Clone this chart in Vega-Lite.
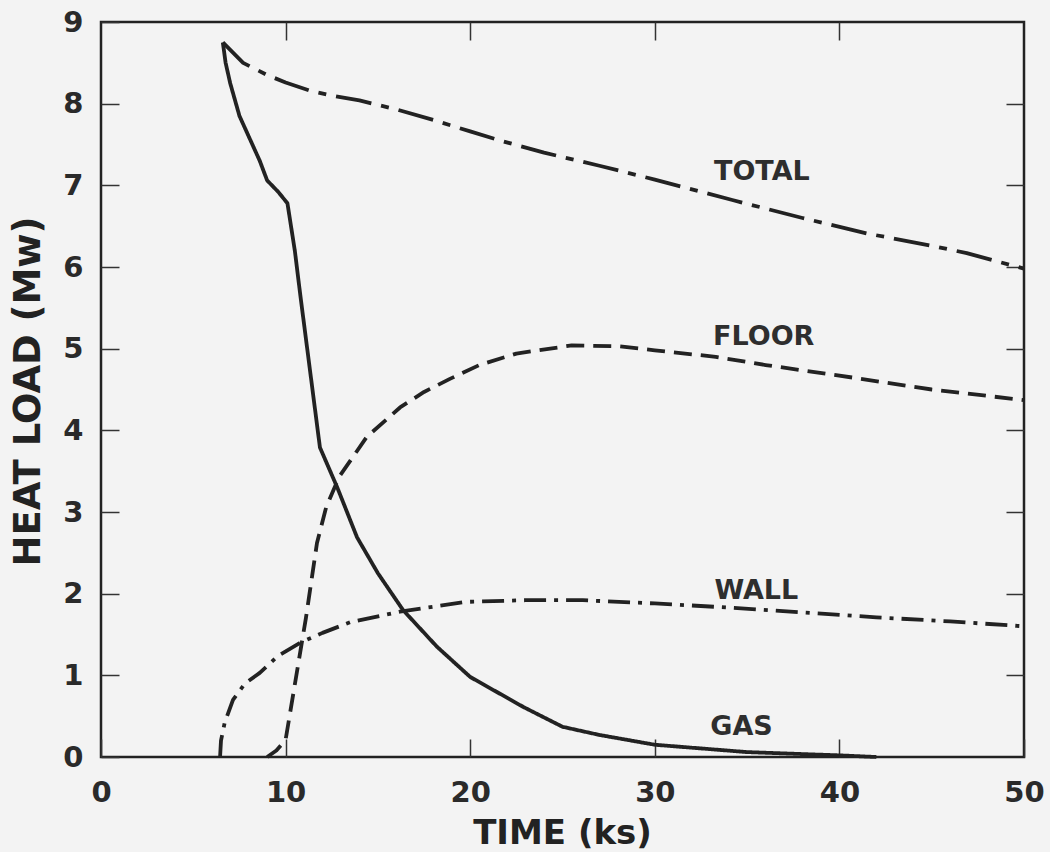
{
  "$schema": "https://vega.github.io/schema/vega-lite/v6.json",
  "width": 923,
  "height": 735,
  "autosize": {"type": "none"},
  "padding": {"left": 101, "top": 22, "right": 26, "bottom": 95},
  "background": "#f3f3f3",
  "config": {
    "view": {"stroke": "#222", "strokeWidth": 2.5},
    "font": "DejaVu Sans"
  },
  "datasets": {
    "curves": [
      {"series": "TOTAL", "t": 6.6, "load": 8.75},
      {"series": "TOTAL", "t": 7.7, "load": 8.5},
      {"series": "TOTAL", "t": 9.0, "load": 8.35},
      {"series": "TOTAL", "t": 10.0, "load": 8.26},
      {"series": "TOTAL", "t": 11.3, "load": 8.16},
      {"series": "TOTAL", "t": 12.5, "load": 8.1},
      {"series": "TOTAL", "t": 14.0, "load": 8.04},
      {"series": "TOTAL", "t": 16.0, "load": 7.93},
      {"series": "TOTAL", "t": 18.0, "load": 7.8},
      {"series": "TOTAL", "t": 20.0, "load": 7.66},
      {"series": "TOTAL", "t": 21.6, "load": 7.55},
      {"series": "TOTAL", "t": 24.0, "load": 7.4},
      {"series": "TOTAL", "t": 27.0, "load": 7.24},
      {"series": "TOTAL", "t": 30.0, "load": 7.07},
      {"series": "TOTAL", "t": 34.2, "load": 6.82},
      {"series": "TOTAL", "t": 38.0, "load": 6.6},
      {"series": "TOTAL", "t": 41.5, "load": 6.41},
      {"series": "TOTAL", "t": 45.0, "load": 6.26},
      {"series": "TOTAL", "t": 46.9, "load": 6.17},
      {"series": "TOTAL", "t": 50.0, "load": 5.98},

      {"series": "GAS", "t": 6.6, "load": 8.75},
      {"series": "GAS", "t": 6.75, "load": 8.5},
      {"series": "GAS", "t": 7.0, "load": 8.25},
      {"series": "GAS", "t": 7.5, "load": 7.85},
      {"series": "GAS", "t": 8.2, "load": 7.5},
      {"series": "GAS", "t": 8.6, "load": 7.3},
      {"series": "GAS", "t": 9.0, "load": 7.06},
      {"series": "GAS", "t": 9.6, "load": 6.92},
      {"series": "GAS", "t": 10.1, "load": 6.78},
      {"series": "GAS", "t": 10.5, "load": 6.2},
      {"series": "GAS", "t": 10.8, "load": 5.65},
      {"series": "GAS", "t": 11.86, "load": 3.79},
      {"series": "GAS", "t": 12.8, "load": 3.3},
      {"series": "GAS", "t": 13.87, "load": 2.69},
      {"series": "GAS", "t": 15.0, "load": 2.25},
      {"series": "GAS", "t": 16.36, "load": 1.8},
      {"series": "GAS", "t": 18.2, "load": 1.35},
      {"series": "GAS", "t": 20.0, "load": 0.98},
      {"series": "GAS", "t": 22.9, "load": 0.61},
      {"series": "GAS", "t": 25.0, "load": 0.37},
      {"series": "GAS", "t": 27.0, "load": 0.27},
      {"series": "GAS", "t": 30.0, "load": 0.15},
      {"series": "GAS", "t": 35.0, "load": 0.06},
      {"series": "GAS", "t": 40.0, "load": 0.02},
      {"series": "GAS", "t": 42.0, "load": 0.0},

      {"series": "FLOOR", "t": 9.0, "load": 0.0},
      {"series": "FLOOR", "t": 9.5, "load": 0.08},
      {"series": "FLOOR", "t": 10.0, "load": 0.21},
      {"series": "FLOOR", "t": 10.9, "load": 1.43},
      {"series": "FLOOR", "t": 11.1, "load": 1.7},
      {"series": "FLOOR", "t": 11.7, "load": 2.62},
      {"series": "FLOOR", "t": 12.2, "load": 3.06},
      {"series": "FLOOR", "t": 12.9, "load": 3.43},
      {"series": "FLOOR", "t": 14.4, "load": 3.92},
      {"series": "FLOOR", "t": 16.2, "load": 4.28},
      {"series": "FLOOR", "t": 17.5, "load": 4.47},
      {"series": "FLOOR", "t": 18.9, "load": 4.63},
      {"series": "FLOOR", "t": 20.5, "load": 4.8},
      {"series": "FLOOR", "t": 22.5, "load": 4.94},
      {"series": "FLOOR", "t": 25.5, "load": 5.04},
      {"series": "FLOOR", "t": 28.0, "load": 5.03},
      {"series": "FLOOR", "t": 30.0, "load": 4.98},
      {"series": "FLOOR", "t": 33.3, "load": 4.9},
      {"series": "FLOOR", "t": 36.0, "load": 4.8},
      {"series": "FLOOR", "t": 40.9, "load": 4.64},
      {"series": "FLOOR", "t": 45.0, "load": 4.5},
      {"series": "FLOOR", "t": 50.0, "load": 4.37},

      {"series": "WALL", "t": 6.45, "load": 0.0},
      {"series": "WALL", "t": 6.5, "load": 0.2},
      {"series": "WALL", "t": 6.7, "load": 0.42},
      {"series": "WALL", "t": 7.15, "load": 0.7},
      {"series": "WALL", "t": 7.8, "load": 0.9},
      {"series": "WALL", "t": 8.6, "load": 1.03},
      {"series": "WALL", "t": 9.6, "load": 1.24},
      {"series": "WALL", "t": 10.8, "load": 1.4},
      {"series": "WALL", "t": 12.0, "load": 1.52},
      {"series": "WALL", "t": 13.5, "load": 1.65},
      {"series": "WALL", "t": 16.2, "load": 1.78},
      {"series": "WALL", "t": 19.8, "load": 1.9},
      {"series": "WALL", "t": 23.0, "load": 1.92},
      {"series": "WALL", "t": 26.1, "load": 1.92},
      {"series": "WALL", "t": 30.0, "load": 1.88},
      {"series": "WALL", "t": 34.0, "load": 1.83},
      {"series": "WALL", "t": 38.7, "load": 1.76},
      {"series": "WALL", "t": 42.0, "load": 1.71},
      {"series": "WALL", "t": 46.0, "load": 1.66},
      {"series": "WALL", "t": 50.0, "load": 1.6}
    ],
    "labels": [
      {"label": "TOTAL", "t": 35.8, "load": 7.16},
      {"label": "FLOOR", "t": 35.9, "load": 5.14},
      {"label": "WALL", "t": 35.5, "load": 2.03},
      {"label": "GAS", "t": 34.7, "load": 0.37}
    ]
  },
  "layer": [
    {
      "data": {"name": "curves"},
      "mark": {"type": "line", "color": "#222", "strokeWidth": 3.8, "strokeCap": "butt", "strokeJoin": "round"},
      "encoding": {
        "x": {
          "field": "t", "type": "quantitative",
          "scale": {"domain": [0, 50], "nice": false, "zero": false},
          "axis": {
            "orient": "bottom", "values": [0, 10, 20, 30, 40, 50], "grid": false, "domain": false, "labelFlush": false,
            "tickSize": -18, "tickWidth": 1.5, "tickColor": "#333",
            "labelPadding": 39, "labelFont": "DejaVu Sans", "labelFontWeight": "bold", "labelFontSize": 29, "labelColor": "#2a2a2a",
            "title": "TIME (ks)", "titleFont": "DejaVu Sans", "titleFontWeight": "bold", "titleFontSize": 34, "titleColor": "#222",
            "titleX": 461, "titleY": 76, "titleBaseline": "middle", "titleAnchor": "middle"
          }
        },
        "y": {
          "field": "load", "type": "quantitative",
          "scale": {"domain": [0, 9], "nice": false},
          "axis": {
            "orient": "left", "values": [0, 1, 2, 3, 4, 5, 6, 7, 8, 9], "grid": false, "domain": false, "labelFlush": false,
            "tickSize": -18, "tickWidth": 1.5, "tickColor": "#333",
            "labelPadding": 36, "labelFont": "DejaVu Sans", "labelFontWeight": "bold", "labelFontSize": 29, "labelColor": "#2a2a2a",
            "title": "HEAT LOAD (Mw)", "titleFont": "DejaVu Sans", "titleFontWeight": "bold", "titleFontSize": 37, "titleColor": "#222",
            "titleX": -73, "titleY": 369, "titleAngle": -90, "titleBaseline": "middle", "titleAlign": "center"
          }
        },
        "strokeDash": {
          "field": "series", "type": "nominal",
          "scale": {"domain": ["TOTAL", "FLOOR", "WALL", "GAS"], "range": [[36, 10, 8, 10], [18, 9], [22, 8, 4, 8], [1, 0]]},
          "legend": null
        }
      }
    },
    {
      "data": {"name": "labels"},
      "mark": {"type": "text", "font": "DejaVu Sans", "fontWeight": "bold", "fontSize": 27, "color": "#2e2e2e", "align": "center", "baseline": "middle"},
      "encoding": {
        "x": {
          "field": "t", "type": "quantitative",
          "scale": {"domain": [0, 50], "nice": false, "zero": false},
          "axis": {"orient": "top", "values": [10, 20, 30, 40], "grid": false, "domain": false, "labels": false, "title": null, "tickSize": -18, "tickWidth": 1.5, "tickColor": "#333"}
        },
        "y": {
          "field": "load", "type": "quantitative",
          "scale": {"domain": [0, 9], "nice": false},
          "axis": {"orient": "right", "values": [1, 2, 3, 4, 5, 6, 7, 8], "grid": false, "domain": false, "labels": false, "title": null, "tickSize": -18, "tickWidth": 1.5, "tickColor": "#333"}
        },
        "text": {"field": "label", "type": "nominal"}
      }
    }
  ],
  "resolve": {"axis": {"x": "independent", "y": "independent"}}
}
